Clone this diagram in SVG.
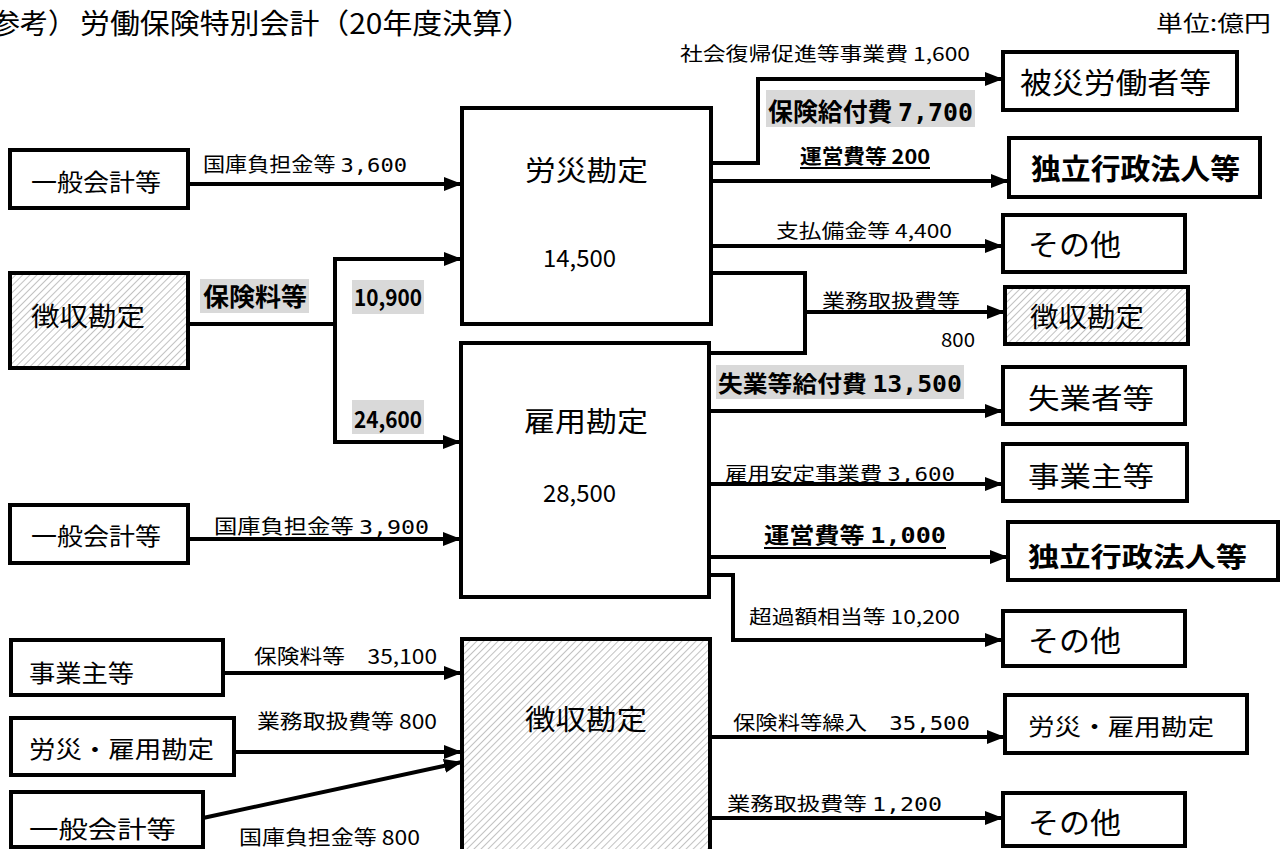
<svg xmlns="http://www.w3.org/2000/svg" width="1288" height="849" viewBox="0 0 1288 849">
<style>
.box{fill:#fff;stroke:#000;stroke-width:4}
.hbox{fill:url(#hatch);stroke:#000;stroke-width:4}
.conn{fill:none;stroke:#000;stroke-width:4}
.arr{marker-end:url(#ah)}
text{font-family:"Noto Sans CJK JP","Noto Sans CJK SC",sans-serif;fill:#000}
.b{font-weight:bold}
.hl{fill:#d9d9d9}
.mono{font-family:"DejaVu Sans Mono",monospace}
.ul{stroke:#000;stroke-width:2}
</style>
<defs>
<pattern id="hatch" patternUnits="userSpaceOnUse" width="5" height="5" patternTransform="rotate(45)">
<rect width="5" height="5" fill="#fff"/>
<line x1="0" y1="0" x2="0" y2="5" stroke="#a8a8a8" stroke-width="1.4"/>
</pattern>
<marker id="ah" markerUnits="userSpaceOnUse" markerWidth="18" markerHeight="14" refX="18" refY="7" orient="auto">
<path d="M0,0 L18,7 L0,14 z" fill="#000"/>
</marker>
</defs>
<rect width="1288" height="849" fill="#fff"/>

<g id="title">
<text x="76" y="34" font-size="28" text-anchor="end">（参考）</text>
<text x="80" y="34" font-size="28" textLength="452" lengthAdjust="spacingAndGlyphs">労働保険特別会計（20年度決算）</text>
<text x="1156" y="31" font-size="22" textLength="115" lengthAdjust="spacingAndGlyphs">単位:億円</text>
</g>

<g id="connectors">
<path class="conn arr" d="M188,184 H462"/>
<path class="conn" d="M188,324 H335"/>
<path class="conn arr" d="M335,324 V259 H462"/>
<path class="conn arr" d="M335,324 V442 H461"/>
<path class="conn arr" d="M188,539 H461"/>
<path class="conn arr" d="M711,163 H758 V79 H1003"/>
<path class="conn arr" d="M711,181 H1009"/>
<path class="conn arr" d="M711,246 H1003"/>
<path class="conn" d="M711,273 H805 V353 H709"/>
<path class="conn arr" d="M805,312 H1005"/>
<path class="conn arr" d="M709,411 H1003"/>
<path class="conn arr" d="M709,484 H1003"/>
<path class="conn arr" d="M709,557 H1008"/>
<path class="conn arr" d="M709,575 H733 V640 H1003"/>
<path class="conn arr" d="M710,737 H1005"/>
<path class="conn arr" d="M710,818 H1003"/>
<path class="conn arr" d="M223,673 H462"/>
<path class="conn arr" d="M234,752 H462"/>
<path class="conn arr" d="M203,818 L462,762"/>
</g>

<g id="labels">
<text x="203" y="172" font-size="20" textLength="204" lengthAdjust="spacingAndGlyphs">国庫負担金等 <tspan class="mono">3,600</tspan></text>
<rect class="hl" x="200" y="279" width="109" height="34"/>
<text class="b" x="203" y="306" font-size="25" textLength="104" lengthAdjust="spacingAndGlyphs">保険料等</text>
<rect class="hl" x="352" y="280" width="72" height="34"/>
<text class="b" x="354" y="306" font-size="23" textLength="68" lengthAdjust="spacingAndGlyphs">10,900</text>
<rect class="hl" x="352" y="400" width="72" height="34"/>
<text class="b" x="354" y="428" font-size="23" textLength="68" lengthAdjust="spacingAndGlyphs">24,600</text>
<text x="214" y="534" font-size="20" textLength="215" lengthAdjust="spacingAndGlyphs">国庫負担金等 <tspan class="mono">3,900</tspan></text>
<text x="254" y="664" font-size="20" textLength="183" lengthAdjust="spacingAndGlyphs">保険料等　35,100</text>
<text x="257" y="729" font-size="20" textLength="180" lengthAdjust="spacingAndGlyphs">業務取扱費等 800</text>
<text x="239" y="845" font-size="20" textLength="181" lengthAdjust="spacingAndGlyphs">国庫負担金等 800</text>
<text x="680" y="61" font-size="19" textLength="290" lengthAdjust="spacingAndGlyphs">社会復帰促進等事業費 1,600</text>
<rect class="hl" x="766" y="90" width="209" height="37"/>
<text class="b" x="768" y="121" font-size="25" textLength="205" lengthAdjust="spacingAndGlyphs">保険給付費 <tspan class="mono">7,700</tspan></text>
<text class="b" x="800" y="164" font-size="20" textLength="130" lengthAdjust="spacingAndGlyphs">運営費等 200</text>
<line class="ul" x1="800" y1="168" x2="930" y2="168"/>
<text x="776" y="238" font-size="19" textLength="176" lengthAdjust="spacingAndGlyphs">支払備金等 4,400</text>
<text x="822" y="308" font-size="19" textLength="138" lengthAdjust="spacingAndGlyphs">業務取扱費等</text>
<text x="941" y="347" font-size="19" textLength="34" lengthAdjust="spacingAndGlyphs">800</text>
<rect class="hl" x="716" y="365" width="248" height="34"/>
<text class="b" x="718" y="392" font-size="23" textLength="244" lengthAdjust="spacingAndGlyphs">失業等給付費 <tspan class="mono">13,500</tspan></text>
<text x="725" y="481" font-size="19" textLength="230" lengthAdjust="spacingAndGlyphs">雇用安定事業費 <tspan class="mono">3,600</tspan></text>
<text class="b" x="764" y="543" font-size="22" textLength="182" lengthAdjust="spacingAndGlyphs">運営費等 <tspan class="mono">1,000</tspan></text>
<line class="ul" x1="764" y1="548" x2="946" y2="548"/>
<text x="749" y="624" font-size="19" textLength="211" lengthAdjust="spacingAndGlyphs">超過額相当等 10,200</text>
<text x="733" y="730" font-size="19" textLength="237" lengthAdjust="spacingAndGlyphs">保険料等繰入　<tspan class="mono">35,500</tspan></text>
<text x="727" y="811" font-size="19" textLength="215" lengthAdjust="spacingAndGlyphs">業務取扱費等 <tspan class="mono">1,200</tspan></text>
</g>

<g id="n-ippan1"><rect class="box" x="10" y="150" width="178" height="58"/><text x="31" y="191" font-size="24" textLength="130" lengthAdjust="spacingAndGlyphs">一般会計等</text></g>
<g id="n-choshu-left"><rect class="hbox" x="10" y="273" width="178" height="95"/><text x="31" y="326" font-size="26" textLength="114" lengthAdjust="spacingAndGlyphs">徴収勘定</text></g>
<g id="n-rousai"><rect class="box" x="462" y="108" width="249" height="216"/><text x="525" y="181" font-size="28" textLength="123" lengthAdjust="spacingAndGlyphs">労災勘定</text><text x="543" y="267" font-size="24" textLength="73" lengthAdjust="spacingAndGlyphs">14,500</text></g>
<g id="n-koyou"><rect class="box" x="461" y="343" width="248" height="254"/><text x="524" y="432" font-size="28" textLength="124" lengthAdjust="spacingAndGlyphs">雇用勘定</text><text x="543" y="502" font-size="24" textLength="73" lengthAdjust="spacingAndGlyphs">28,500</text></g>
<g id="n-ippan2"><rect class="box" x="10" y="505" width="178" height="58"/><text x="31" y="545" font-size="24" textLength="130" lengthAdjust="spacingAndGlyphs">一般会計等</text></g>
<g id="n-jigyou-left"><rect class="box" x="11" y="640" width="212" height="55"/><text x="29" y="682" font-size="24" textLength="105" lengthAdjust="spacingAndGlyphs">事業主等</text></g>
<g id="n-rk-left"><rect class="box" x="11" y="718" width="223" height="57"/><text x="29" y="758" font-size="24" textLength="185" lengthAdjust="spacingAndGlyphs">労災・雇用勘定</text></g>
<g id="n-ippan3"><rect class="box" x="11" y="792" width="192" height="55"/><text x="29" y="838" font-size="24" textLength="147" lengthAdjust="spacingAndGlyphs">一般会計等</text></g>
<g id="n-choshu-bottom"><rect class="hbox" x="462" y="639" width="248" height="215"/><text x="525" y="730" font-size="28" textLength="122" lengthAdjust="spacingAndGlyphs">徴収勘定</text></g>

<g id="n-hisai"><rect class="box" x="1003" y="52" width="234" height="58"/><text x="1020" y="94" font-size="29" textLength="191" lengthAdjust="spacingAndGlyphs">被災労働者等</text></g>
<g id="n-dokuritsu1"><rect class="box" x="1009" y="138" width="251" height="59"/><text class="b" x="1031" y="180" font-size="29" textLength="209" lengthAdjust="spacingAndGlyphs">独立行政法人等</text></g>
<g id="n-sonota1"><rect class="box" x="1003" y="215" width="182" height="57"/><text x="1028" y="256" font-size="29" textLength="93" lengthAdjust="spacingAndGlyphs">その他</text></g>
<g id="n-choshu-right"><rect class="hbox" x="1005" y="287" width="183" height="57"/><text x="1030" y="327" font-size="27" textLength="114" lengthAdjust="spacingAndGlyphs">徴収勘定</text></g>
<g id="n-shitsugyo"><rect class="box" x="1003" y="367" width="182" height="57"/><text x="1028" y="409" font-size="28" textLength="126" lengthAdjust="spacingAndGlyphs">失業者等</text></g>
<g id="n-jigyou-right"><rect class="box" x="1003" y="444" width="184" height="57"/><text x="1028" y="487" font-size="28" textLength="126" lengthAdjust="spacingAndGlyphs">事業主等</text></g>
<g id="n-dokuritsu2"><rect class="box" x="1008" y="522" width="270" height="58"/><text class="b" x="1028" y="567" font-size="27" textLength="219" lengthAdjust="spacingAndGlyphs">独立行政法人等</text></g>
<g id="n-sonota2"><rect class="box" x="1003" y="611" width="182" height="55"/><text x="1028" y="652" font-size="29" textLength="93" lengthAdjust="spacingAndGlyphs">その他</text></g>
<g id="n-rk-right"><rect class="box" x="1005" y="695" width="242" height="58"/><text x="1028" y="735" font-size="23" textLength="186" lengthAdjust="spacingAndGlyphs">労災・雇用勘定</text></g>
<g id="n-sonota3"><rect class="box" x="1003" y="793" width="182" height="53"/><text x="1028" y="834" font-size="29" textLength="93" lengthAdjust="spacingAndGlyphs">その他</text></g>
</svg>
